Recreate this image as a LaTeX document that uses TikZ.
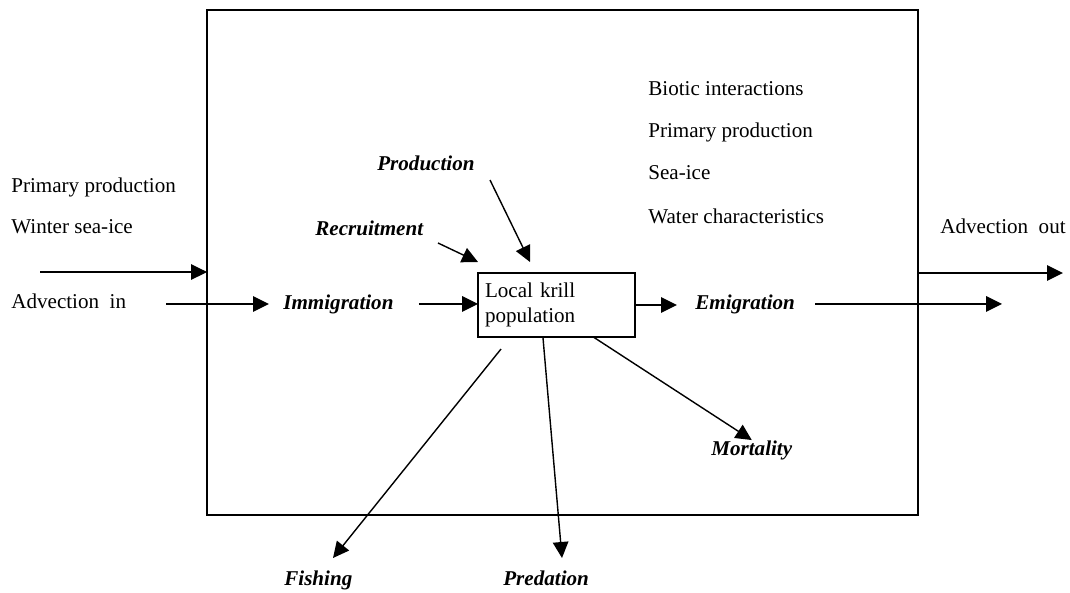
\documentclass[tikz,border=0pt]{standalone}
\usepackage{fontspec}
\setmainfont{Liberation Serif}
\usetikzlibrary{arrows.meta,positioning}

\begin{document}
\begin{tikzpicture}[x=0.02cm, y=-0.02cm,
  txt/.style={inner sep=0pt, anchor=base west, font=\fontsize{12}{14}\selectfont},
  flux/.style={txt, font=\fontsize{12}{14}\selectfont\bfseries\itshape},
  box/.style={rectangle, draw, line width=0.8pt, outer sep=0pt},
  arrow/.style={-{Triangle[length=3.2mm, width=3.1mm]}, line width=0.8pt},
]
\useasboundingbox (0,0) rectangle (1070,592);

% === AREA AND KRILL POPULATION ===
\node[box, minimum width=14.22cm, minimum height=10.1cm] (area) at (562.5,262.5) {};
\node[box, minimum width=3.14cm, minimum height=1.28cm, text width=2.86cm, inner xsep=0.14cm,
  align=left, font=\fontsize{12}{14}\selectfont] (krill) at (556.5,305) {Local krill\\population};

% === DRIVERS OUTSIDE AND INSIDE ===
\node[txt] (ppout) at (11,192) {Primary production};
\node[txt] (iceout) at (11,233) {Winter sea-ice};
\node[txt] (advin) at (11,308) {Advection~~in};
\node[txt] (advout) at (940,233) {Advection~~out};

\node[txt] (biotic) at (648,95) {Biotic interactions};
\node[txt] (ppin) at (648,137) {Primary production};
\node[txt] (icein) at (648,179) {Sea-ice};
\node[txt] (water) at (648,223) {Water characteristics};

% === FLUXES ===
\node[flux] (prod) at (377,170) {Production};
\node[flux] (recr) at (315,235) {Recruitment};
\node[flux] (immig) at (283,309) {Immigration};
\node[flux] (emig) at (695,309) {Emigration};
\node[flux] (mort) at (711,455) {Mortality};
\node[flux] (fish) at (284,585) {Fishing};
\node[flux] (pred) at (503,585) {Predation};

\coordinate (drvin) at (40,272);
\coordinate (drvout) at (1063,273);
\coordinate (advinS) at (166,304);
\coordinate (emigE) at (1002,304);
\coordinate (prodS) at (490,180);
\coordinate (prodE) at (530,262);
\coordinate (recrS) at (438,243);
\coordinate (recrE) at (478,262);
\coordinate (fishS) at (501,349);
\coordinate (fishE) at (333,558);
\coordinate (predE) at (562,558);

% === ARROWS ===
\draw[arrow] (drvin) -- (drvin -| area.west);
\draw[arrow] (drvout -| area.east) -- (drvout);
\draw[arrow, shorten >=0.28cm] (advinS) -- (advinS -| immig.west);
\draw[arrow, shorten <=0.5cm] (immig.east) -- (immig.east -| krill.west);
\draw[arrow, shorten >=0.36cm] (krill.east) -- (krill.east -| emig.west);
\draw[arrow, shorten <=0.4cm] (emig.east) -- (emig.east -| emigE);
\draw[arrow] (prodS) -- (prodE);
\draw[arrow] (recrS) -- (recrE);
\draw[arrow] (fishS) -- (fishE);
\draw[arrow] (krill.247) -- (predE);
\draw[arrow] (krill.319) -- (mort.north);
\end{tikzpicture}
\end{document}
